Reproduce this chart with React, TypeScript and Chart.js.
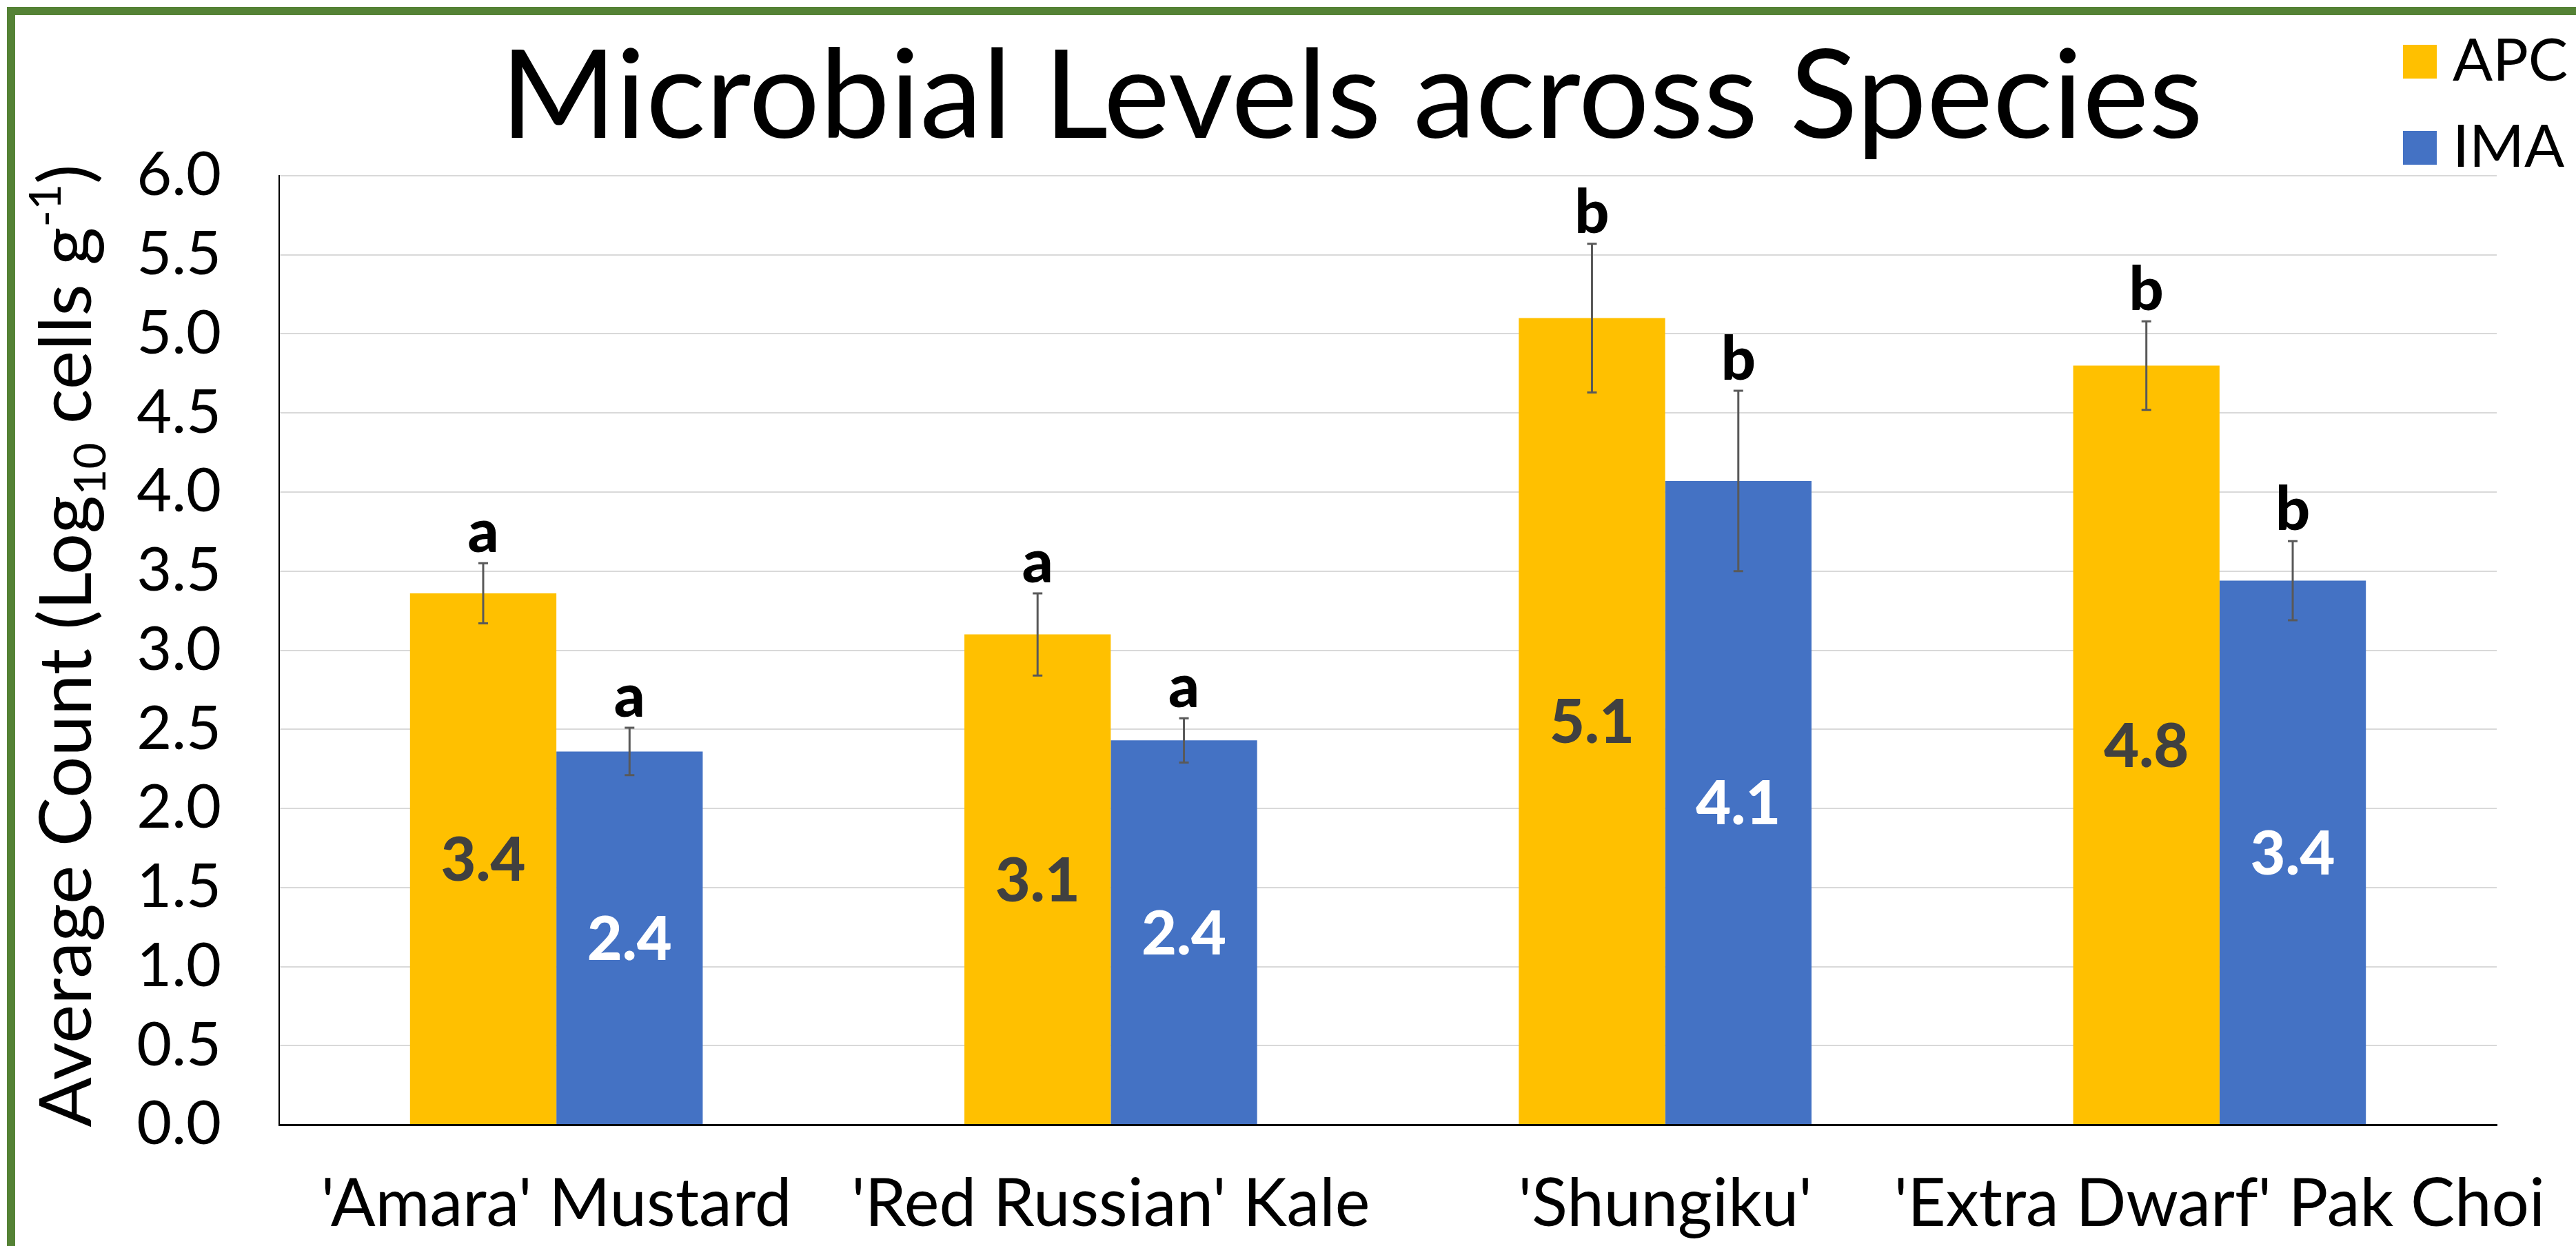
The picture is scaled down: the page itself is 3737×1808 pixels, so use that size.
import React, { useEffect, useRef } from 'react';
import { Chart, registerables } from 'chart.js';

Chart.register(...registerables);

// ---------- data ----------
const categories = ["'Amara' Mustard", "'Red Russian' Kale", "'Shungiku'", "'Extra Dwarf' Pak Choi"];
const seriesNames = ['APC', 'IMA'];
const apcValues = [3.36, 3.1, 5.1, 4.8];
const imaValues = [2.36, 2.43, 4.07, 3.44];
const apcErrors = [0.19, 0.26, 0.47, 0.28];
const imaErrors = [0.15, 0.14, 0.57, 0.25];
const apcLetters = ['a', 'a', 'b', 'b'];
const imaLetters = ['a', 'a', 'b', 'b'];
const yMin = 0;
const yMax = 6;
const yStep = 0.5;
const chartTitle = 'Microbial Levels across Species';
const yTitleParts = [
  { text: 'Average Count (Log', mode: 0 },
  { text: '10', mode: 1 },
  { text: ' cells g', mode: 0 },
  { text: '-1', mode: -1 },
  { text: ')', mode: 0 },
];

// ---------- style ----------
const W = 3737;
const H = 1808;
const FONT = 'Lato, "Noto Sans", "DejaVu Sans", sans-serif';
const APC_COLOR = '#FFC000';
const IMA_COLOR = '#4472C4';

const annotationsPlugin = {
  id: 'barAnnotations',
  afterDatasetsDraw(chart: any) {
    const ctx = chart.ctx;
    const yScale = chart.scales.y;
    chart.data.datasets.forEach((ds: any, di: number) => {
      const meta = chart.getDatasetMeta(di);
      meta.data.forEach((bar: any, i: number) => {
        const v = ds.data[i];
        const e = ds.errors[i];
        const x = bar.x;
        const yTop = yScale.getPixelForValue(v + e);
        const yBot = yScale.getPixelForValue(v - e);
        ctx.save();
        // value label, centred in bar
        ctx.font = `900 88px ${FONT}`;
        ctx.textAlign = 'center';
        ctx.textBaseline = 'alphabetic';
        ctx.fillStyle = ds.valueColor;
        const txt = v.toFixed(1);
        const m = ctx.measureText(txt);
        const cy = (bar.y + bar.base) / 2;
        ctx.fillText(txt, x, cy + m.actualBoundingBoxAscent / 2);
        // error bar
        ctx.strokeStyle = '#595959';
        ctx.lineWidth = 3;
        ctx.beginPath();
        ctx.moveTo(x, yTop);
        ctx.lineTo(x, yBot);
        ctx.moveTo(x - 7, yTop);
        ctx.lineTo(x + 7, yTop);
        ctx.moveTo(x - 7, yBot);
        ctx.lineTo(x + 7, yBot);
        ctx.stroke();
        // significance letter
        ctx.font = `900 88px ${FONT}`;
        ctx.fillStyle = '#000';
        ctx.fillText(ds.letters[i], x, yTop - 16);
        ctx.restore();
      });
    });
  },
};

const decorPlugin = {
  id: 'decor',
  afterDraw(chart: any) {
    const ctx = chart.ctx;
    ctx.save();
    // title
    ctx.font = `178px ${FONT}`;
    ctx.fillStyle = '#000';
    ctx.textBaseline = 'alphabetic';
    ctx.textAlign = 'left';
    const tw = ctx.measureText(chartTitle).width;
    const targetW = 2470;
    const sx = targetW / tw;
    ctx.save();
    ctx.translate(1961 - targetW / 2, 200);
    ctx.scale(sx, 1);
    ctx.fillText(chartTitle, 0, 0);
    ctx.restore();

    // legend
    ctx.font = `86px ${FONT}`;
    chart.data.datasets.forEach((ds: any, i: number) => {
      const top = 65 + i * 125;
      ctx.fillStyle = ds.backgroundColor;
      ctx.fillRect(3486, top, 49, 49);
      ctx.fillStyle = '#000';
      ctx.fillText(ds.label, 3558, top + 52);
    });

    // y-axis title (rotated, with sub/superscripts)
    const size = 104;
    const fontFor = (mode: number) => `${mode === 0 ? size : Math.round(size * 0.62)}px ${FONT}`;
    ctx.save();
    ctx.translate(132, 937);
    ctx.rotate(-Math.PI / 2);
    const widths = yTitleParts.map((p) => {
      ctx.font = fontFor(p.mode);
      return ctx.measureText(p.text).width;
    });
    const total = widths.reduce((a, b) => a + b, 0);
    const targetLen = 1397;
    ctx.scale(targetLen / total, 1);
    let x = -total / 2;
    yTitleParts.forEach((p, i) => {
      ctx.font = fontFor(p.mode);
      const dy = p.mode === 1 ? size * 0.2 : p.mode === -1 ? -size * 0.42 : 0;
      ctx.fillText(p.text, x, dy);
      x += widths[i];
    });
    ctx.restore();
    ctx.restore();
  },
};

export default function App() {
  const ref = useRef<HTMLCanvasElement>(null);
  useEffect(() => {
    const canvas = ref.current;
    if (!canvas) return;
    const chart = new Chart(canvas, {
      type: 'bar',
      data: {
        labels: categories,
        datasets: [
          {
            label: seriesNames[0],
            data: apcValues,
            backgroundColor: APC_COLOR,
            borderWidth: 0,
            errors: apcErrors,
            letters: apcLetters,
            valueColor: '#404040',
          } as any,
          {
            label: seriesNames[1],
            data: imaValues,
            backgroundColor: IMA_COLOR,
            borderWidth: 0,
            errors: imaErrors,
            letters: imaLetters,
            valueColor: '#FFFFFF',
          } as any,
        ],
      },
      options: {
        responsive: false,
        animation: false,
        devicePixelRatio: 1,
        layout: { padding: { top: 255, right: 115, bottom: 0, left: 0 } },
        datasets: { bar: { categoryPercentage: 0.528, barPercentage: 1 } },
        plugins: {
          legend: { display: false },
          title: { display: false },
          tooltip: { enabled: false },
        },
        scales: {
          x: {
            grid: { display: false, drawTicks: false },
            border: { display: true, color: '#000', width: 3 },
            ticks: {
              font: { family: FONT, size: 96 },
              color: '#000',
              padding: 58,
              maxRotation: 0,
              minRotation: 0,
              autoSkip: false,
            },
            afterFit(s: any) {
              s.height = 176;
              s.paddingLeft = 0;
              s.paddingRight = 0;
            },
          },
          y: {
            min: yMin,
            max: yMax,
            ticks: {
              stepSize: yStep,
              callback: (v: any) => Number(v).toFixed(1),
              font: { family: FONT, size: 88 },
              color: '#000',
              padding: 84,
            },
            grid: {
              color: (c: any) => (c.tick && c.tick.value === 0 ? 'rgba(0,0,0,0)' : '#D9D9D9'),
              lineWidth: 2,
              drawTicks: false,
            },
            border: { display: true, color: '#000', width: 2 },
            afterFit(s: any) {
              s.width = 405;
              s.paddingTop = 0;
              s.paddingBottom = 0;
            },
          },
        },
      } as any,
      plugins: [annotationsPlugin, decorPlugin],
    });
    return () => chart.destroy();
  }, []);

  return (
    <div style={{ position: 'fixed', left: 0, top: 0, width: W, height: H, background: '#fff', overflow: 'hidden' }}>
      <div
        style={{
          position: 'absolute',
          left: 10,
          top: 10,
          width: W,
          height: H,
          borderTop: '12px solid #548235',
          borderLeft: '12px solid #548235',
          boxSizing: 'border-box',
        }}
      />
      <canvas ref={ref} width={W} height={H} style={{ position: 'absolute', left: 0, top: 0, width: W, height: H }} />
    </div>
  );
}
